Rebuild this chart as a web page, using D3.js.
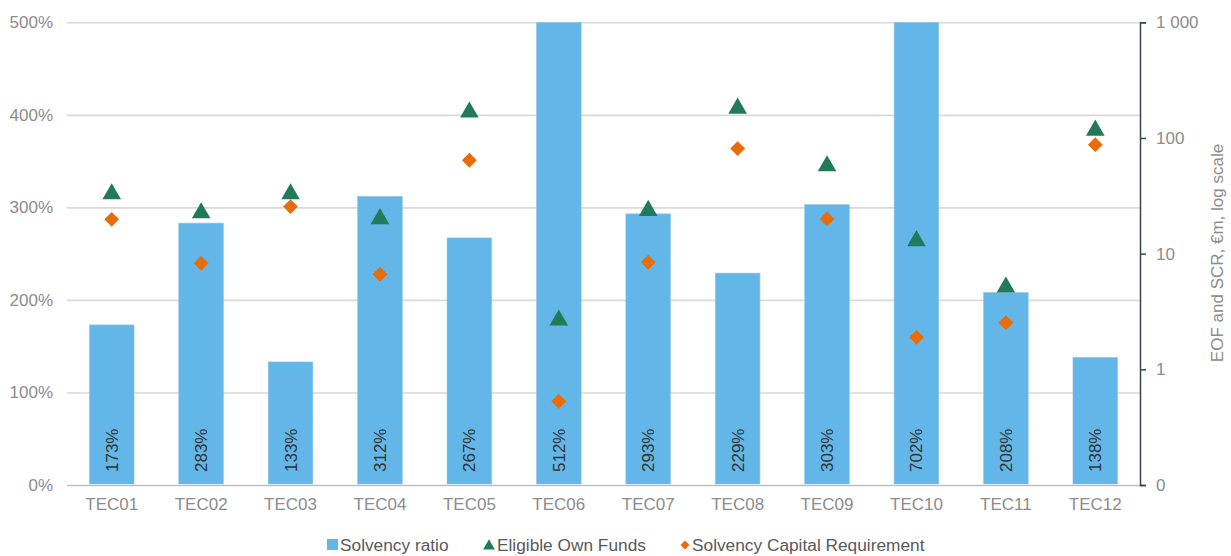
<!DOCTYPE html>
<html><head><meta charset="utf-8">
<script src="https://cdn.jsdelivr.net/npm/d3@7"></script>
<style>body{margin:0;background:#fff}svg{display:block;font-family:"Liberation Sans",Arial,sans-serif}</style>
</head><body><svg id="c" width="1231" height="556"></svg>
<script>
const categories = ["TEC01","TEC02","TEC03","TEC04","TEC05","TEC06","TEC07","TEC08","TEC09","TEC10","TEC11","TEC12"];
const solvencyRatio = [173,283,133,312,267,512,293,229,303,702,208,138];
const eligibleOwnFunds = [33.8,23.2,33.8,20.6,172,2.74,24.3,186,59,13.3,5.28,120];
const scr = [19.8,8.26,25.5,6.64,64.2,0.53,8.43,80.9,19.95,1.89,2.53,87.5];
const leftTicks = [0,100,200,300,400,500];
const rightTicks = [0.1,1,10,100,1000];
const seriesNames = ["Solvency ratio","Eligible Own Funds","Solvency Capital Requirement"];

const svg = d3.select("#c");
const x0 = 67, x1 = 1140, yTop = 22.3, yBot = 485;
const x = d3.scaleBand().domain(categories).range([x0,x1]).paddingInner(0.5).paddingOuter(0.25);
const yL = d3.scaleLinear().domain([0,500]).range([yBot,yTop]).clamp(true);
const yR = d3.scaleLog().domain([0.1,1000]).range([yBot,yTop]);

const barCol = "#62b7e8", triCol = "#217b58", diaCol = "#e86c0a", axisTxt = "#8c8c8c";

// gridlines
const gl = svg.append("g").attr("transform",`translate(${x0},0)`)
  .call(d3.axisLeft(yL).tickValues(leftTicks).tickSize(-(x1-x0)).tickFormat(d=>d+"%").tickPadding(14));
gl.select(".domain").remove();
gl.selectAll(".tick line").attr("stroke",d=>d===0?"#bfbfbf":"#d9d9d9").attr("stroke-width",1.6);
gl.selectAll(".tick text").attr("fill",axisTxt).attr("font-size",17).attr("font-family","Liberation Sans, Arial, sans-serif");

// bars
svg.append("g").selectAll("rect").data(categories).join("rect")
  .attr("x",d=>x(d)).attr("width",x.bandwidth())
  .attr("y",(d,i)=>yL(solvencyRatio[i])).attr("height",(d,i)=>yBot-1-yL(solvencyRatio[i]))
  .attr("fill",barCol).attr("stroke","#9cc6df").attr("stroke-width",0.6);

// bar labels
svg.append("g").selectAll("text").data(categories).join("text")
  .attr("transform",d=>`translate(${x(d)+x.bandwidth()/2+6},472) rotate(-90)`)
  .attr("font-size",17).attr("fill","#333").attr("text-anchor","start")
  .text((d,i)=>solvencyRatio[i]+"%");

// x axis labels
const xa = svg.append("g").attr("transform",`translate(0,${yBot})`)
  .call(d3.axisBottom(x).tickSize(0).tickPadding(13));
xa.select(".domain").remove();
xa.selectAll("text").attr("fill",axisTxt).attr("font-size",17).attr("font-family","Liberation Sans, Arial, sans-serif");

// right axis
const ra = svg.append("g").attr("transform",`translate(${x1},0)`)
  .call(d3.axisRight(yR).tickValues(rightTicks).tickSize(6).tickPadding(10)
    .tickFormat(d=>d<1?"0":d3.format(",")(d).replace(/,/g," ")));
ra.select(".domain").attr("stroke","#3b4550").attr("stroke-width",1.5);
ra.selectAll(".tick line").attr("stroke","#3b4550").attr("stroke-width",1.5);
ra.selectAll(".tick text").attr("fill",axisTxt).attr("font-size",17).attr("font-family","Liberation Sans, Arial, sans-serif");

svg.append("text").attr("transform","translate(1223,253) rotate(-90)")
  .attr("text-anchor","middle").attr("font-size",17).attr("fill",axisTxt)
  .text("EOF and SCR, €m, log scale");

// markers
const tri = d3.symbol().type(d3.symbolTriangle).size(150);
const dia = d3.symbol().type(d3.symbolSquare).size(110);
svg.append("g").selectAll("path").data(categories).join("path")
  .attr("d",tri).attr("fill",triCol)
  .attr("transform",(d,i)=>`translate(${x(d)+x.bandwidth()/2},${yR(eligibleOwnFunds[i])+1.5})`);
svg.append("g").selectAll("path").data(categories).join("path")
  .attr("d",dia).attr("fill",diaCol)
  .attr("transform",(d,i)=>`translate(${x(d)+x.bandwidth()/2},${yR(scr[i])}) rotate(45)`);

// legend
const lg = svg.append("g").attr("font-size",17.3).attr("fill","#595959");
lg.append("rect").attr("x",327).attr("y",539).attr("width",11).attr("height",11).attr("fill",barCol);
lg.append("text").attr("x",340).attr("y",551).text(seriesNames[0]);
lg.append("path").attr("d",d3.symbol().type(d3.symbolTriangle).size(60)).attr("fill",triCol).attr("transform","translate(489,546)");
lg.append("text").attr("x",497).attr("y",551).text(seriesNames[1]);
lg.append("path").attr("d",d3.symbol().type(d3.symbolSquare).size(40)).attr("fill",diaCol).attr("transform","translate(685,545) rotate(45)");
lg.append("text").attr("x",692).attr("y",551).text(seriesNames[2]);
</script></body></html>
